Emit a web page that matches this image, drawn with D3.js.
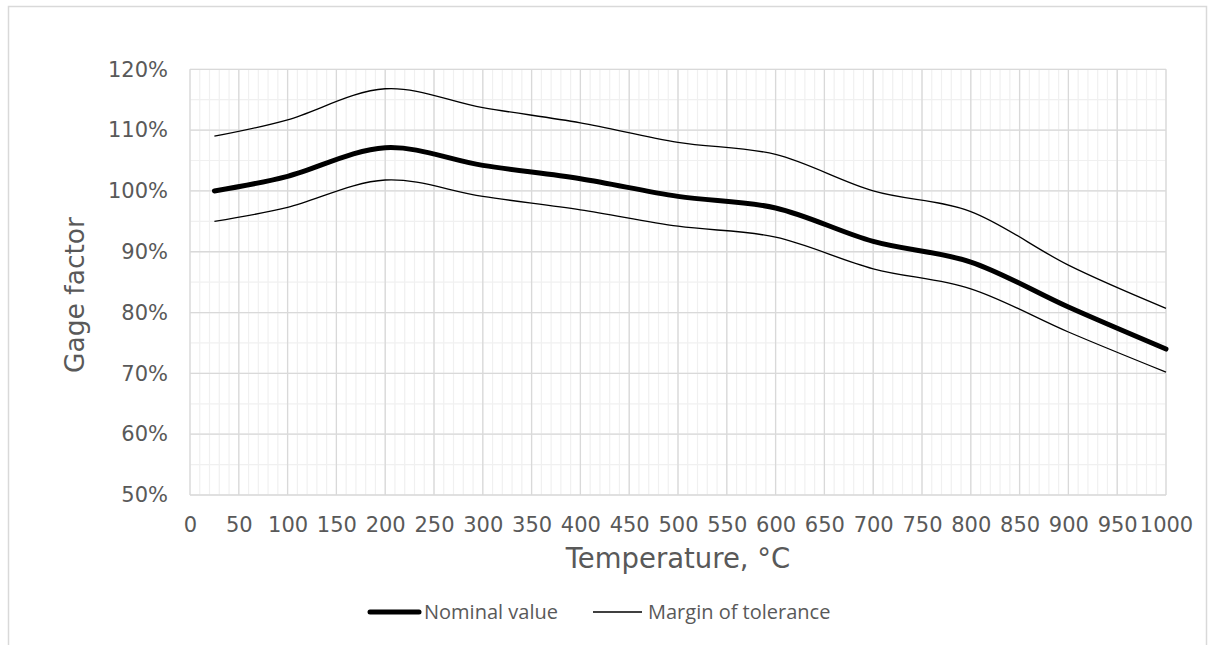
<!DOCTYPE html>
<html>
<head>
<meta charset="utf-8">
<script src="https://d3js.org/d3.v7.min.js"></script>
<style>
  body { margin: 0; background: #fff; }
  svg { display: block; }
  .tick text { fill: #595959; font-family: 'DejaVu Sans', Verdana, sans-serif; font-size: 21px; }
</style>
</head>
<body>
<svg id="chart" width="1208" height="645"></svg>
<script>
// data (temperature in °C, gage factor in %)
var temps   = [25, 100, 200, 300, 400, 500, 600, 700, 800, 900, 1000];
var nominal = [100, 102.4, 107.1, 104.2, 102.0, 99.1, 97.2, 91.7, 88.3, 80.9, 74.0];
var upper   = [109.0, 111.7, 116.8, 113.7, 111.2, 108.0, 106.0, 100.0, 96.6, 87.8, 80.7];
var lower   = [95.0, 97.3, 101.8, 99.1, 96.9, 94.2, 92.4, 87.2, 83.9, 76.8, 70.2];

var xTicks = d3.range(0, 1001, 50);
var yTicks = d3.range(50, 121, 10);

var svg = d3.select("#chart");

// outer chart frame
svg.append("rect")
  .attr("x", 8.5).attr("y", 6.5)
  .attr("width", 1198).attr("height", 700)
  .attr("fill", "none")
  .attr("stroke", "#d9d9d9")
  .attr("stroke-width", 1.5);

var x = d3.scaleLinear().domain([0, 1000]).range([190, 1166]);
var y = d3.scaleLinear().domain([50, 120]).range([495, 69.3]);

// minor grid
var grid = svg.append("g");
grid.selectAll(".vminor").data(d3.range(0, 1001, 10)).enter().append("line")
  .attr("x1", d => x(d)).attr("x2", d => x(d))
  .attr("y1", y(50)).attr("y2", y(120))
  .attr("stroke", "#f0f0f0").attr("stroke-width", 1.2);
grid.selectAll(".hminor").data(d3.range(50, 121, 5)).enter().append("line")
  .attr("x1", x(0)).attr("x2", x(1000))
  .attr("y1", d => y(d)).attr("y2", d => y(d))
  .attr("stroke", "#f0f0f0").attr("stroke-width", 1.2);
// major grid
grid.selectAll(".vmajor").data(xTicks).enter().append("line")
  .attr("x1", d => x(d)).attr("x2", d => x(d))
  .attr("y1", y(50)).attr("y2", y(120))
  .attr("stroke", "#d9d9d9").attr("stroke-width", 1.3);
grid.selectAll(".hmajor").data(yTicks).enter().append("line")
  .attr("x1", x(0)).attr("x2", x(1000))
  .attr("y1", d => y(d)).attr("y2", d => y(d))
  .attr("stroke", "#d9d9d9").attr("stroke-width", 1.3);

// axes (labels only)
var xAxis = svg.append("g")
  .attr("transform", "translate(0," + 514 + ")")
  .call(d3.axisBottom(x).tickValues(xTicks).tickSize(0).tickPadding(0).tickFormat(d3.format("d")));
xAxis.select(".domain").remove();
xAxis.selectAll("text").attr("dy", "0.85em");

var yAxis = svg.append("g")
  .attr("transform", "translate(168,0)")
  .call(d3.axisLeft(y).tickValues(yTicks).tickSize(0).tickPadding(0).tickFormat(d => d + "%"));
yAxis.select(".domain").remove();

// axis titles
svg.append("text")
  .text("Temperature, °C")
  .attr("x", 678).attr("y", 568)
  .attr("text-anchor", "middle")
  .style("font-family", "'DejaVu Sans', Verdana, sans-serif")
  .style("font-size", "27.5px")
  .style("fill", "#595959");

svg.append("text")
  .text("Gage factor")
  .attr("transform", "translate(84,295) rotate(-90)")
  .attr("text-anchor", "middle")
  .style("font-family", "'DejaVu Sans', Verdana, sans-serif")
  .style("font-size", "26.5px")
  .style("fill", "#595959");

// curves
var line = d3.line()
  .x(d => x(d[0]))
  .y(d => y(d[1]))
  .curve(d3.curveCardinal.tension(0));

function pairs(vals) { return temps.map((t, i) => [t, vals[i]]); }

svg.append("path").attr("d", line(pairs(upper)))
  .attr("fill", "none").attr("stroke", "#000").attr("stroke-width", 1.3);
svg.append("path").attr("d", line(pairs(lower)))
  .attr("fill", "none").attr("stroke", "#000").attr("stroke-width", 1.3);
svg.append("path").attr("d", line(pairs(nominal)))
  .attr("fill", "none").attr("stroke", "#000").attr("stroke-width", 5)
  .attr("stroke-linecap", "round");

// legend
var legend = svg.append("g").style("font-family", "'Open Sans', 'Liberation Sans', sans-serif")
  .style("font-size", "20px").style("fill", "#595959");
legend.append("line")
  .attr("x1", 370).attr("x2", 419).attr("y1", 612).attr("y2", 612)
  .attr("stroke", "#000").attr("stroke-width", 5).attr("stroke-linecap", "round");
legend.append("text").text("Nominal value")
  .attr("x", 424).attr("y", 612).attr("dy", "0.35em");
legend.append("line")
  .attr("x1", 593).attr("x2", 642).attr("y1", 612).attr("y2", 612)
  .attr("stroke", "#000").attr("stroke-width", 1.3);
legend.append("text").text("Margin of tolerance")
  .attr("x", 648).attr("y", 612).attr("dy", "0.35em");
</script>
</body>
</html>
